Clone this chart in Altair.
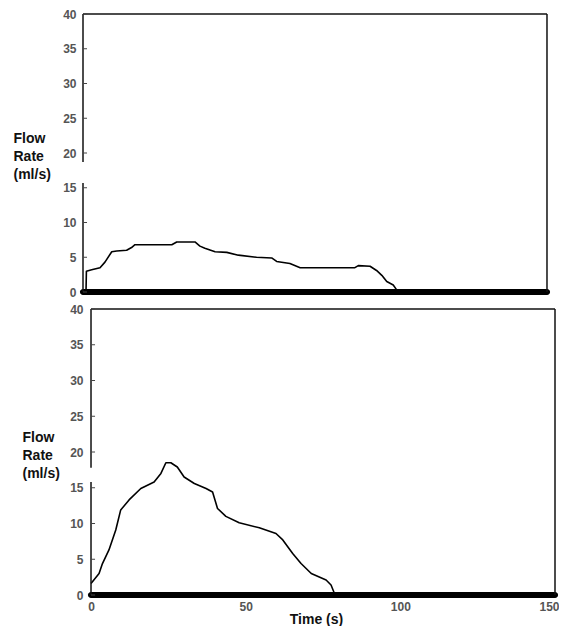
import altair as alt
import pandas as pd

# ---- data ----
top_time = [0.97, 1.1, 2.8, 5.5, 7.1, 9.3, 10.9, 14.1, 15.7, 16.8, 28.7, 30.3, 36.2, 37.8, 39.4,
            42.7, 46.5, 50.2, 56.1, 61.0, 62.6, 66.9, 70.2, 87.9, 89.0, 92.8, 94.9, 96.6, 98.2,
            100.3, 101.4]
top_flow = [0.0, 3.0, 3.2, 3.5, 4.3, 5.8, 5.9, 6.0, 6.4, 6.8, 6.8, 7.2, 7.2, 6.6, 6.3,
            5.8, 5.7, 5.3, 5.0, 4.9, 4.4, 4.1, 3.5, 3.5, 3.8, 3.7, 3.1, 2.4, 1.5,
            1.0, 0.3]

bot_time = [0.0, 2.6, 3.7, 5.8, 8.0, 9.6, 12.3, 16.1, 20.4, 22.6, 24.2, 25.8, 27.9, 30.1, 33.4,
            37.2, 39.3, 40.9, 43.6, 47.9, 54.4, 59.8, 62.0, 65.2, 67.9, 71.2, 76.0, 77.6, 78.7]
bot_flow = [1.6, 3.0, 4.4, 6.3, 9.1, 11.9, 13.3, 14.9, 15.8, 17.0, 18.5, 18.5, 17.9, 16.5, 15.6,
            14.9, 14.4, 12.1, 11.0, 10.1, 9.4, 8.6, 7.7, 5.8, 4.4, 3.0, 2.1, 1.4, 0.2]

# the heavy zero trace along the time axis (start, end, value)
base_start = [-1.0]
base_end = [151.0]
base_flow = [0.0]

y_ticks = [0, 5, 10, 15, 20, 25, 30, 35, 40]
x_ticks = [0, 50, 100, 150]
y_title = ["Flow", "Rate", "(ml/s)"]
x_title = "Time (s)"

X_MIN, X_MAX = 0, 150
Y_DOM = [0, 40]
FONT = "Liberation Sans"

PLOT_W = 472          # shared plot-area width of both panels
SHIFT = 2.59          # lower panel sits ~8px further right (in time units)
TICK = 1.3            # inward tick length (time units, ~4px)


def panel(times, flows, height, gap, x_dom, show_x, title_x, title_y, lab_pad):
    curve = pd.DataFrame({"t": times, "v": flows})
    base = pd.DataFrame({"t": base_start, "t2": base_end, "v": base_flow})
    xs = alt.Scale(domain=x_dom, nice=False, zero=False, padding=0)
    ys = alt.Scale(domain=Y_DOM, nice=False, padding=0)

    if show_x:
        x_axis = alt.Axis(values=x_ticks, ticks=False, domain=False, grid=False,
                          labelFont=FONT, labelFontSize=12, labelFontWeight="bold",
                          labelColor="#555", labelPadding=6, labelFlush=True,
                          labelFlushOffset=4, title=x_title,
                          titleFont=FONT, titleFontSize=14, titleFontWeight="bold",
                          titleColor="#111", titleX=233, titleY=28,
                          titleAlign="center", titleBaseline="alphabetic")
    else:
        x_axis = None
    y_axis = alt.Axis(values=y_ticks, ticks=False, domain=False, grid=False,
                      labelFont=FONT, labelFontSize=12, labelFontWeight="bold",
                      labelColor="#555", labelPadding=lab_pad, labelFlush=False,
                      title=y_title, titleFont=FONT, titleFontSize=14,
                      titleFontWeight="bold", titleColor="#111", titleAngle=0,
                      titleAlign="left", titleBaseline="alphabetic",
                      titleX=title_x, titleY=title_y, titleLineHeight=18)

    def X():
        return alt.X("t:Q", scale=xs, axis=x_axis)

    def Y():
        return alt.Y("v:Q", scale=ys, axis=y_axis)

    base_bar = alt.Chart(base).mark_bar(color="black", size=6, cornerRadius=3).encode(
        x=X(), x2="t2:Q", y=Y())
    curve_line = alt.Chart(curve).mark_line(color="black", strokeWidth=1.6,
                                            strokeJoin="round").encode(x=X(), y=Y())
    border = pd.DataFrame({
        "t": [X_MIN, X_MAX, X_MIN, X_MIN],
        "t2": [X_MAX, X_MAX, X_MIN, X_MIN],
        "v": [40, 0, 0, gap[1]],
        "v2": [40, 40, gap[0], 40],
    })
    frame = alt.Chart(border).mark_rule(color="#111", strokeWidth=1.5).encode(
        x=X(), x2="t2:Q", y=Y(), y2="v2:Q")
    tick_df = pd.DataFrame({"v": y_ticks, "t": [X_MIN] * len(y_ticks),
                            "t2": [X_MIN + TICK] * len(y_ticks)})
    ticks = alt.Chart(tick_df).mark_rule(color="#444", strokeWidth=1).encode(
        x=X(), x2="t2:Q", y=Y())
    return alt.layer(base_bar, curve_line, frame, ticks).properties(width=PLOT_W, height=height)


top = panel(top_time, top_flow, 278, (15.7, 18.7), [X_MIN, X_MAX + SHIFT], False, -70, 128, 7)
bottom = panel(bot_time, bot_flow, 286, (15.8, 17.8), [X_MIN - SHIFT, X_MAX], True, -61, 132, 0)

chart = alt.vconcat(top, bottom, spacing=5).properties(
    padding={"left": 5, "top": 0, "right": 0, "bottom": 0}
).configure_view(stroke=None)

chart.save("out.html", embed_options={"renderer": "svg", "actions": False})
